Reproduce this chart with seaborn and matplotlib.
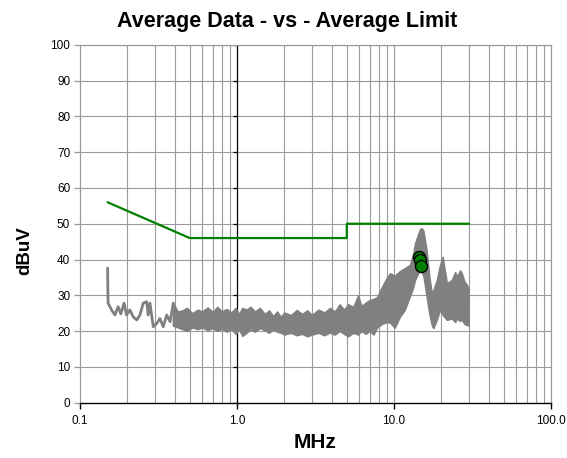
import matplotlib
matplotlib.use("Agg")
import matplotlib.pyplot as plt
import seaborn as sns
import pandas as pd
from matplotlib.ticker import FixedLocator, NullFormatter

# limit line (average limit, MHz / dBuV)
limit_freq = [0.15, 0.5, 5.0, 5.0, 30.0]
limit_level = [56, 46, 46, 50, 50]

# low-frequency part of the average trace (single visible line)
trace_freq = [0.150, 0.151, 0.159, 0.167, 0.175, 0.182, 0.191, 0.198, 0.208, 0.218,
              0.230, 0.241, 0.253, 0.266, 0.272, 0.279, 0.293, 0.308, 0.323, 0.339,
              0.357, 0.375, 0.393]
trace_level = [37.6, 27.8, 25.9, 24.5, 26.8, 24.8, 27.8, 24.5, 25.9, 24.0,
               23.1, 24.5, 27.8, 28.2, 24.5, 27.8, 21.2, 22.1, 23.5, 21.2,
               24.5, 22.6, 27.8]

# dense part of the trace: lower / upper envelope
band_freq = [0.39, 0.42, 0.45, 0.48, 0.52, 0.56, 0.60, 0.65, 0.70, 0.75,
             0.80, 0.86, 0.92, 0.98, 1.03, 1.08, 1.15, 1.22, 1.30, 1.40,
             1.50, 1.60, 1.70, 1.80, 1.90, 2.0, 2.2, 2.4, 2.6, 2.8,
             3.0, 3.3, 3.6, 3.9, 4.2, 4.5, 4.8, 5.1, 5.5, 5.9,
             6.2, 6.6, 7.0, 7.4, 7.8, 8.4, 9.0, 9.44, 10.1, 10.9,
             11.7, 12.6, 13.2, 13.6, 14.2, 14.6, 15.0, 15.4, 16.1, 16.8,
             17.4, 17.8, 18.7, 19.6, 20.4, 21.7, 23.3, 24.5, 25.1, 26.3,
             27.0, 28.0, 29.0, 29.9]
band_low = [21.5, 21.0, 20.5, 20.0, 21.0, 20.5, 21.0, 20.2, 20.8, 20.0,
            20.6, 19.8, 20.5, 19.2, 20.5, 18.6, 19.5, 20.5, 19.8, 20.8,
            20.2, 19.5, 20.5, 19.8, 19.5, 19.0, 19.5, 18.8, 19.2, 18.5,
            19.0, 19.5, 18.8, 19.6, 19.0, 20.0, 19.2, 18.5, 19.5, 19.0,
            20.0, 19.2, 20.0, 19.0, 21.0, 22.0, 22.5, 22.3, 20.9, 24.0,
            25.9, 29.6, 32.0, 34.3, 36.0, 37.1, 36.5, 35.2, 29.6, 24.5,
            21.5, 20.8, 23.1, 25.9, 24.5, 23.1, 23.5, 22.5, 23.5, 22.8,
            23.2, 22.0, 21.7, 21.5]
band_high = [28.0, 25.5, 25.8, 26.5, 25.0, 26.0, 25.5, 26.6, 25.4, 26.8,
             25.5, 26.2, 25.2, 26.5, 24.8, 26.5, 26.0, 26.8, 25.5, 26.5,
             24.8, 25.8, 24.2, 25.5, 24.0, 25.2, 24.5, 25.9, 24.8, 25.8,
             24.5, 26.0, 25.2, 26.5, 25.5, 27.5, 26.0, 27.5, 26.8, 30.0,
             27.0, 28.0, 28.7, 29.0, 29.5, 32.5, 35.0, 36.2, 35.5, 36.8,
             37.6, 38.5, 41.5, 44.6, 47.0, 48.5, 48.8, 48.0, 42.7, 35.0,
             30.6, 31.5, 34.3, 38.5, 40.8, 33.4, 34.3, 36.5, 35.2, 37.0,
             36.2, 34.0, 33.0, 32.0]

# measured average points
point_freq = [14.4, 14.6, 14.8]
point_level = [40.7, 39.9, 38.3]

x_ticks = [0.1, 1.0, 10.0, 100.0]
x_labels = ["0.1", "1.0", "10.0", "100.0"]
y_ticks = list(range(0, 101, 10))

sns.set_theme(style="white")
plt.rcParams["font.family"] = ["Liberation Sans", "DejaVu Sans"]
plt.rcParams["text.color"] = "black"
plt.rcParams["axes.labelcolor"] = "black"
plt.rcParams["xtick.color"] = "black"
plt.rcParams["ytick.color"] = "black"

fig = plt.figure(figsize=(5.67, 4.58), dpi=100)
ax = fig.add_axes([0.141, 0.121, 0.831, 0.781])

grid_color = "#9a9a9a"
for v in y_ticks[1:]:
    ax.axhline(v, color=grid_color, lw=0.8, zorder=0)
minor = [m * 10.0 ** e for e in (-1, 0, 1) for m in range(2, 10)] + [10.0]
for f in minor:
    ax.axvline(f, color=grid_color, lw=0.8, zorder=0)
ax.axvline(1.0, color="black", lw=0.9, zorder=1)
ax.plot([1.0] * len(y_ticks), y_ticks, ls="none", marker=0, ms=3,
        mew=0.9, color="black", zorder=1)

ax.fill_between(band_freq, band_low, band_high, color="#808080", lw=1.0,
                edgecolor="#808080", zorder=2)
sns.lineplot(x=trace_freq, y=trace_level, ax=ax, color="#808080", lw=2.0,
             sort=False, estimator=None, zorder=2)
sns.lineplot(x=limit_freq, y=limit_level, ax=ax, color="#008000", lw=1.6,
             sort=False, estimator=None, zorder=3)
pts = pd.DataFrame({"freq": point_freq, "level": point_level})
sns.scatterplot(data=pts, x="freq", y="level", ax=ax, color="#008000",
                edgecolor="black", linewidth=1.0, s=75, zorder=4)

ax.set_xscale("log")
ax.set_xlim(0.1, 100)
ax.set_ylim(0, 100)
ax.xaxis.set_major_locator(FixedLocator(x_ticks))
ax.set_xticklabels(x_labels)
ax.xaxis.set_minor_formatter(NullFormatter())
ax.xaxis.set_minor_locator(FixedLocator([]))
ax.set_yticks(y_ticks)

for side in ("left", "right", "top"):
    ax.spines[side].set_color(grid_color)
    ax.spines[side].set_linewidth(0.9)
ax.spines["bottom"].set_color("black")
ax.spines["bottom"].set_linewidth(1.0)
ax.tick_params(axis="x", which="major", direction="out", length=4, width=1.0,
               color="black", labelcolor="black", labelsize=8.5, pad=5, bottom=True)
ax.tick_params(axis="y", direction="out", length=4, width=0.9,
               color=grid_color, labelcolor="black", labelsize=8.5, pad=3, left=True)

ax.set_xlabel("MHz", fontsize=15, fontweight="bold", labelpad=4, color="black")
ax.set_ylabel("dBuV", fontsize=13.5, fontweight="bold", color="black")
ax.yaxis.set_label_coords(-0.099, 0.424)
fig.text(0.507, 0.941, "Average Data - vs - Average Limit", fontsize=15.5,
         fontweight="bold", color="black", ha="center", va="baseline")

fig.savefig("out.png", dpi=100, facecolor="white")
